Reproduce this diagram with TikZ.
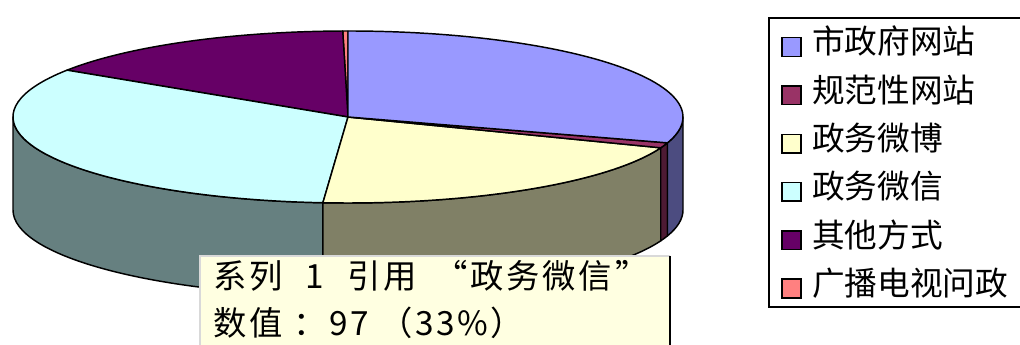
\documentclass[tikz,border=0pt]{standalone}
\usepackage{fontspec}
\newfontfamily\cjk{Noto Sans CJK SC}
\newfontfamily\cjktip[LetterSpace=8]{Noto Sans CJK SC}
\usetikzlibrary{calc}
\definecolor{blueTop}{HTML}{9999FF}
\definecolor{blueSide}{HTML}{4C4C80}
\definecolor{maroonTop}{HTML}{993366}
\definecolor{maroonSide}{HTML}{4D1A33}
\definecolor{yellowTop}{HTML}{FFFFCC}
\definecolor{yellowSide}{HTML}{808066}
\definecolor{cyanTop}{HTML}{CCFFFF}
\definecolor{cyanSide}{HTML}{668080}
\definecolor{purpleTop}{HTML}{660066}
\definecolor{salmonTop}{HTML}{FF8080}
\definecolor{tipFill}{HTML}{FFFFE1}
\newcommand\pieside[3]{\filldraw[piece,fill=#3] ($(C)+(#1:335 and 86)$) arc[start angle=#1,end angle=#2,x radius=335,y radius=86] -- ++(0,-93) arc[start angle=#2,end angle=#1,x radius=335,y radius=86] -- cycle;}
\newcommand\pietop[3]{\filldraw[piece,fill=#3] (C) -- ($(C)+(#1:335 and 86)$) arc[start angle=#1,end angle=#2,x radius=335,y radius=86] -- cycle;}
\tikzset{
  piece/.style={draw=black,line width=1.1pt,line join=round},
  legsq/.style={draw=black,line width=1.1pt,minimum size=14pt,inner sep=0pt},
  legtxt/.style={anchor=base west,inner sep=0pt,font=\cjk\fontsize{24.5pt}{28pt}\selectfont},
  tiptxt/.style={anchor=base west,inner sep=0pt,font=\cjktip\fontsize{25pt}{30pt}\selectfont}
}
\begin{document}
\begin{tikzpicture}[x=0.75pt,y=0.75pt]
\useasboundingbox (0,0) rectangle (1020,345);
\coordinate (C) at (348,228);
% sides
\pieside{180}{265.7}{cyanSide}
\pieside{265.7}{339}{yellowSide}
\pieside{339}{342.5}{maroonSide}
\pieside{342.5}{360}{blueSide}
% top
\pietop{90}{90.9}{salmonTop}
\pietop{90.9}{147}{purpleTop}
\pietop{147}{265.7}{cyanTop}
\pietop{265.7}{339}{yellowTop}
\pietop{339}{342.5}{maroonTop}
\pietop{342.5}{450}{blueTop}
\begin{scope}
\clip (0,0) rectangle (1020,345);
% tooltip
\fill[tipFill] (200,-10) rectangle (670,89);
\draw[black!15,line width=0.8pt] (200,-10) -- (200,89) -- (670,89);
\draw[black,line width=1pt] (670,89) -- (670,-10);
\node[tiptxt] (tip1) at (213,56) {系列\hspace{17pt}1\hspace{18pt}引用\hspace{13pt}“政务微信\hspace{3pt}”};
\node[tiptxt] (tip2) at (213,9) {数值\hspace{8pt}：\hspace{2pt}97 （33\%）};
% legend
\draw[black,line width=1.3pt] (1030,327) -- (769,327) -- (769,38) -- (1030,38);
\node[legsq,fill=blueTop] (sq1) at (791.5,298) {};
\node[legsq,fill=maroonTop] (sq2) at (791.5,249.7) {};
\node[legsq,fill=yellowTop] (sq3) at (791.5,201.4) {};
\node[legsq,fill=cyanTop] (sq4) at (791.5,153.1) {};
\node[legsq,fill=purpleTop] (sq5) at (791.5,104.8) {};
\node[legsq,fill=salmonTop] (sq6) at (791.5,56.5) {};
\node[legtxt] (lt1) at (812,291) {市政府网站};
\node[legtxt] (lt2) at (812,242.7) {规范性网站};
\node[legtxt] (lt3) at (812,194.4) {政务微博};
\node[legtxt] (lt4) at (812,146.1) {政务微信};
\node[legtxt] (lt5) at (812,97.8) {其他方式};
\node[legtxt] (lt6) at (812,49.5) {广播电视问政};
\end{scope}
\end{tikzpicture}
\end{document}
